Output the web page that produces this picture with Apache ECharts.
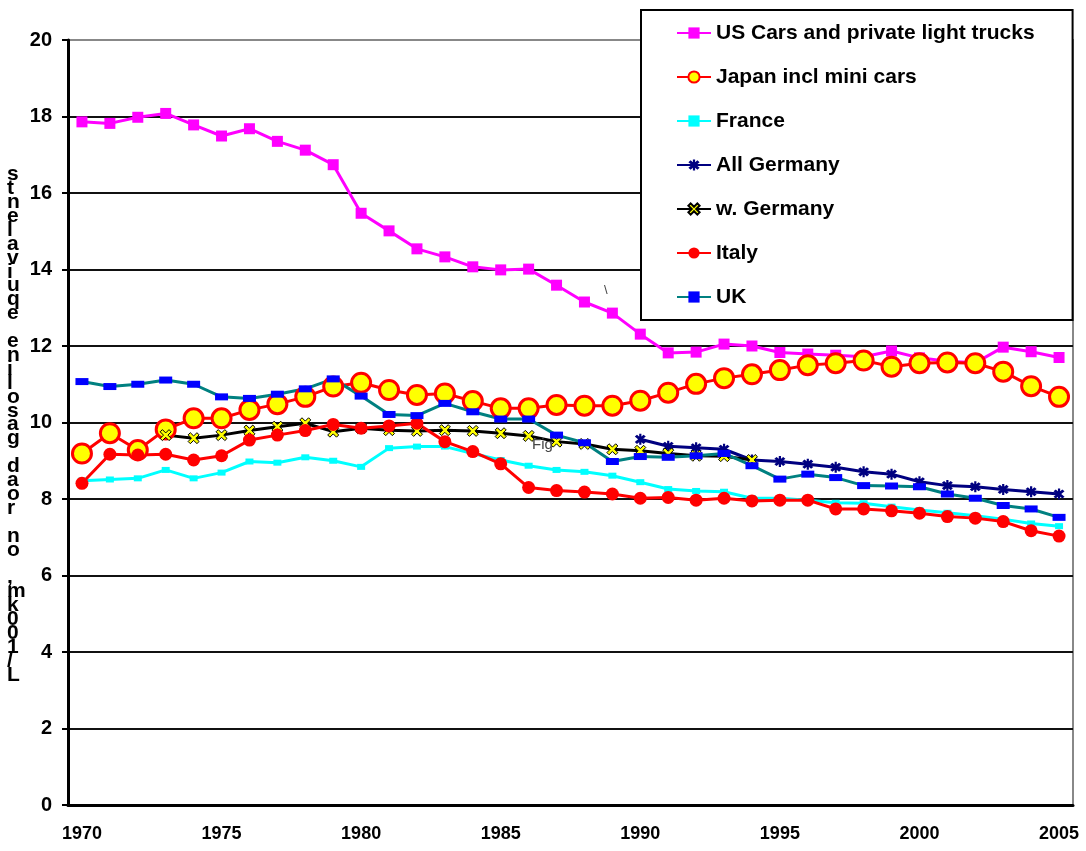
<!DOCTYPE html>
<html>
<head>
<meta charset="utf-8">
<script src="https://cdn.jsdelivr.net/npm/echarts@6/dist/echarts.min.js"></script>
<style>
html,body{margin:0;padding:0;background:#fff;}
#chart{width:1086px;height:851px;}
</style>
</head>
<body>
<div id="chart"></div>
<script>
var years = [];
for (var y = 1970; y <= 2005; y++) years.push(String(y));

var usCars = [17.86,17.82,17.98,18.08,17.78,17.49,17.68,17.35,17.12,16.74,
  15.47,15.01,14.54,14.33,14.07,13.99,14.01,13.59,13.15,12.86,
  12.31,11.82,11.84,12.05,12.0,11.83,11.79,11.76,11.72,11.87,
  11.69,11.6,11.56,11.97,11.85,11.70];
var japan = [9.19,9.72,9.28,9.82,10.11,10.11,10.33,10.48,10.67,10.94,
  11.04,10.85,10.72,10.76,10.56,10.37,10.37,10.46,10.44,10.44,
  10.57,10.78,11.01,11.16,11.26,11.37,11.50,11.55,11.62,11.46,
  11.55,11.57,11.55,11.33,10.95,10.67];
var france = [8.48,8.51,8.54,8.76,8.54,8.69,8.98,8.95,9.09,9.0,
  8.84,9.33,9.37,9.37,9.19,9.02,8.87,8.76,8.71,8.61,
  8.44,8.26,8.21,8.19,8.02,8.02,7.97,7.90,7.89,7.80,
  7.71,7.64,7.56,7.47,7.36,7.29];
var allGermany = [null,null,null,null,null,null,null,null,null,null,
  null,null,null,null,null,null,null,null,null,null,
  9.56,9.38,9.34,9.30,9.02,8.98,8.91,8.83,8.71,8.65,
  8.45,8.35,8.32,8.25,8.19,8.13];
var wGermany = [null,null,null,9.67,9.59,9.67,9.79,9.89,9.98,9.76,
  9.85,9.80,9.78,9.80,9.78,9.72,9.65,9.50,9.44,9.30,
  9.26,9.19,9.13,9.12,9.02,null,null,null,null,null,
  null,null,null,null,null,null];
var italy = [8.41,9.17,9.15,9.17,9.02,9.13,9.54,9.67,9.79,9.95,
  9.85,9.91,9.98,9.50,9.24,8.92,8.30,8.22,8.18,8.13,
  8.02,8.04,7.97,8.02,7.95,7.97,7.97,7.74,7.74,7.69,
  7.63,7.54,7.50,7.41,7.17,7.03];
var uk = [11.07,10.94,11.0,11.11,11.0,10.67,10.63,10.74,10.88,11.14,
  10.69,10.21,10.18,10.50,10.28,10.09,10.09,9.67,9.47,8.98,
  9.11,9.09,9.13,9.19,8.87,8.52,8.65,8.56,8.35,8.34,
  8.32,8.13,8.02,7.83,7.74,7.52];

var seriesNames = ['US Cars and private light trucks','Japan incl mini cars','France','All Germany','w. Germany','Italy','UK'];
var yTitle = 'L/100km, on road gasoline equivalents';

var FONT = '"Liberation Sans", Arial, sans-serif';
var xPath = 'path://M0,2 L2,0 L5,3 L8,0 L10,2 L7,5 L10,8 L8,10 L5,7 L2,10 L0,8 L3,5 Z';
var starPath = 'path://M0,2 L2,0 L5,3 L8,0 L10,2 L7,5 L10,8 L8,10 L5,7 L2,10 L0,8 L3,5 Z M4,-1 L6,-1 L6,11 L4,11 Z';

var splitColors = [];
for (var i = 0; i < 10; i++) splitColors.push('#111');
splitColors.push('#888');

function line(name, data, symbol, size, lineColor, itemStyle) {
  return { name: name, type: 'line', data: data, symbol: symbol, symbolSize: size,
    showAllSymbol: true, lineStyle: { color: lineColor, width: 3 }, itemStyle: itemStyle };
}

var chart = echarts.init(document.getElementById('chart'));
chart.setOption({
  animation: false,
  backgroundColor: '#fff',
  textStyle: { fontFamily: FONT },
  grid: { left: 68, right: 13, top: 40, bottom: 46, show: true, borderColor: '#888', borderWidth: 2, backgroundColor: 'transparent' },
  legend: {
    orient: 'vertical', left: 641, top: 10,
    padding: [12, 38, 12, 35],
    backgroundColor: '#fff', borderColor: '#000', borderWidth: 2,
    itemWidth: 34, itemHeight: 14, itemGap: 22,
    textStyle: { fontSize: 21, fontWeight: 'bold', color: '#000', lineHeight: 22, fontFamily: FONT },
    data: seriesNames
  },
  xAxis: {
    type: 'category', data: years, boundaryGap: true,
    axisLine: { lineStyle: { color: '#000', width: 3 } },
    axisTick: { interval: 0, length: 7, lineStyle: { color: '#000', width: 2 } },
    axisLabel: { interval: 4, fontSize: 18, fontWeight: 'bold', color: '#000', margin: 20, fontFamily: FONT },
    splitLine: { show: false }
  },
  yAxis: {
    type: 'value', min: 0, max: 20, interval: 2,
    axisLine: { show: true, lineStyle: { color: '#000', width: 3 } },
    axisTick: { show: true, length: 6, lineStyle: { color: '#000', width: 2 } },
    axisLabel: { fontSize: 20, fontWeight: 'bold', color: '#000', margin: 16, fontFamily: FONT },
    splitLine: { show: true, lineStyle: { color: splitColors, width: 2 } }
  },
  graphic: [
    { type: 'text', left: 7, top: 164, z: 10,
      style: { text: yTitle.split('').reverse().join('\n'), font: 'bold 21px ' + FONT, fill: '#000', align: 'center', lineHeight: 13.9, width: 22 } },
    { type: 'text', left: 532, top: 437, z: 10, style: { text: 'Fig', font: '15px ' + FONT, fill: '#444' } },
    { type: 'text', left: 604, top: 284, z: 10, style: { text: '\\', font: '13px ' + FONT, fill: '#444' } }
  ],
  series: [
    line(seriesNames[0], usCars, 'rect', 11, '#ff00ff', { color: '#ff00ff' }),
    line(seriesNames[1], japan, 'circle', 19, '#ff0000', { color: '#ffff00', borderColor: '#ff0000', borderWidth: 3 }),
    line(seriesNames[2], france, 'rect', [8, 6], '#00ffff', { color: '#00ffff' }),
    line(seriesNames[3], allGermany, starPath, 11, '#000080', { color: '#000080' }),
    line(seriesNames[4], wGermany, xPath, 11, '#000000', { color: '#ffff00', borderColor: '#000', borderWidth: 1 }),
    line(seriesNames[5], italy, 'circle', 13, '#ff0000', { color: '#ff0000' }),
    line(seriesNames[6], uk, 'rect', [13, 7], '#008080', { color: '#0000ff' })
  ]
});
</script>
</body>
</html>
